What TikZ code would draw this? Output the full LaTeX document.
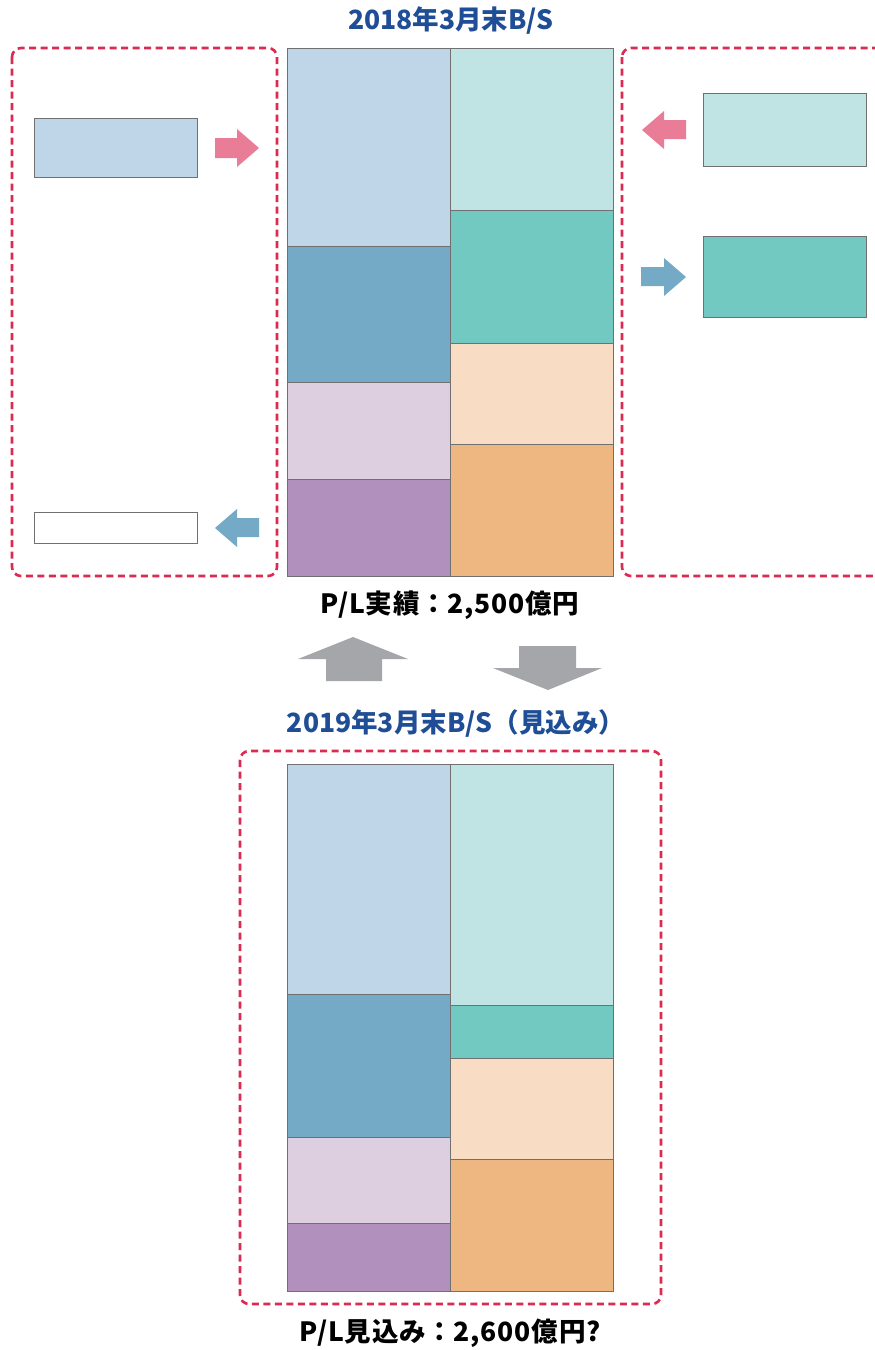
\documentclass[tikz,border=0pt]{standalone}
\usepackage{fontspec}
\setmainfont{Noto Sans CJK JP}
\usetikzlibrary{positioning}
\definecolor{ttl}{HTML}{1F4E96}
\definecolor{dash}{HTML}{DC2A50}
\definecolor{lblue}{HTML}{BFD6E8}
\definecolor{dblue}{HTML}{74AAC6}
\definecolor{lpurp}{HTML}{DDCEE0}
\definecolor{purp}{HTML}{B290BD}
\definecolor{lteal}{HTML}{BFE4E3}
\definecolor{dteal}{HTML}{72C9C2}
\definecolor{peach}{HTML}{F8DCC4}
\definecolor{orng}{HTML}{EEB680}
\definecolor{pinkar}{HTML}{E97D98}
\definecolor{grayar}{HTML}{A5A6A9}
\definecolor{edge}{HTML}{707070}
\tikzset{
  blk/.style={draw=edge, line width=0.9pt},
  dbox/.style={draw=dash, line width=2.6pt, dash pattern=on 7pt off 4.5pt, rounded corners=9pt},
  ttltext/.style={font=\fontsize{26.5}{30}\selectfont\bfseries, text=ttl, inner sep=0pt},
  pltext/.style={font=\fontsize{26.5}{30}\selectfont\bfseries\addfontfeature{LetterSpace=3}, text=black, inner sep=0pt},
}
\begin{document}
\begin{tikzpicture}[x=1pt,y=-1pt]
\clip (0,0) rectangle (875,1350);
\fill[white] (0,0) rectangle (875,1350);

% titles and texts
\node[ttltext] (t1) at (451,21) {2018年3月末B/S};
\node[pltext] (p1) at (450,605) {P/L実績：2,500億円};
\node[ttltext] (t2) at (456,723) {2019年3月末B/S（見込み）};
\node[pltext] (p2) at (450,1333) {P/L見込み：2,600億円?};

% dashed frames
\draw[dbox] (12,48) rectangle (277,576);
\draw[dbox] (622,48) rectangle (900,576);
\draw[dbox] (240,751) rectangle (661,1304);

% top balance sheet
\filldraw[blk, fill=lblue] (287,48) rectangle (450,246);
\filldraw[blk, fill=dblue] (287,246) rectangle (450,382);
\filldraw[blk, fill=lpurp] (287,382) rectangle (450,479);
\filldraw[blk, fill=purp] (287,479) rectangle (450,576);
\filldraw[blk, fill=lteal] (450,48) rectangle (613,210);
\filldraw[blk, fill=dteal] (450,210) rectangle (613,343);
\filldraw[blk, fill=peach] (450,343) rectangle (613,444);
\filldraw[blk, fill=orng] (450,444) rectangle (613,576);

% side boxes
\filldraw[blk, fill=lblue] (34,118) rectangle (197,177);
\filldraw[blk, fill=white] (34,512) rectangle (197,543);
\filldraw[blk, fill=lteal] (703,93) rectangle (866,166);
\filldraw[blk, fill=dteal] (703,236) rectangle (866,317);

% small block arrows
\fill[pinkar] (215,138) -- (237,138) -- (237,129) -- (259,148) -- (237,167) -- (237,158) -- (215,158) -- cycle;
\fill[dblue] (259,518) -- (237,518) -- (237,509) -- (215,528) -- (237,547) -- (237,537) -- (259,537) -- cycle;
\fill[pinkar] (686,120) -- (664,120) -- (664,111) -- (642,130) -- (664,149) -- (664,139) -- (686,139) -- cycle;
\fill[dblue] (641,267) -- (664,267) -- (664,258) -- (686,277) -- (664,296) -- (664,286) -- (641,286) -- cycle;

% big gray arrows
\fill[grayar] (326,681) -- (326,659) -- (298,659) -- (353,637) -- (408,659) -- (382,659) -- (382,681) -- cycle;
\fill[grayar] (519,646) -- (576,646) -- (576,668) -- (602,668) -- (548,690) -- (493,668) -- (519,668) -- cycle;

% bottom balance sheet
\filldraw[blk, fill=lblue] (287,764) rectangle (450,994);
\filldraw[blk, fill=dblue] (287,994) rectangle (450,1137);
\filldraw[blk, fill=lpurp] (287,1137) rectangle (450,1223);
\filldraw[blk, fill=purp] (287,1223) rectangle (450,1291);
\filldraw[blk, fill=lteal] (450,764) rectangle (613,1005);
\filldraw[blk, fill=dteal] (450,1005) rectangle (613,1058);
\filldraw[blk, fill=peach] (450,1058) rectangle (613,1159);
\filldraw[blk, fill=orng] (450,1159) rectangle (613,1291);
\end{tikzpicture}
\end{document}
